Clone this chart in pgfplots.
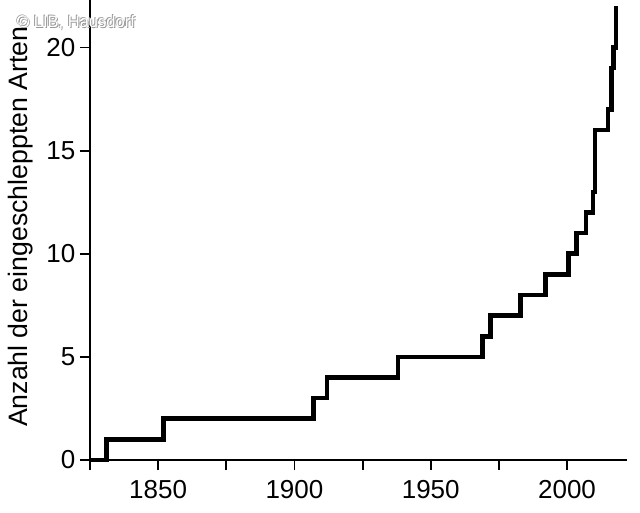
\documentclass[border=0pt]{standalone}
\usepackage{pgfplots}
\pgfplotsset{compat=1.18}
\usepackage{fontspec}
\setmainfont{Liberation Sans}
\begin{document}
\begin{tikzpicture}[x=0.75pt,y=0.75pt]
\useasboundingbox (-90,-52) rectangle (550,460);
\begin{axis}[
  scale only axis,
  width=402.75pt, height=345pt,
  at={(0,0)}, anchor=south west,
  xmin=1825, xmax=2022, ymin=0, ymax=22.3,
  axis lines=left,
  axis line style={line width=1.4pt, -},
  xtick={1850,1900,1950,2000},
  minor xtick={1825,1875,1925,1975},
  ytick={0,5,10,15,20},
  tick align=outside,
  major tick length=7.5pt, minor tick length=7.5pt,
  every tick/.style={black, line width=1.4pt},
  every minor tick/.style={black, line width=1.4pt},
  tick label style={font=\fontsize{19.5}{22}\selectfont},
  xticklabel style={yshift=-4.5pt},
  /pgf/number format/assume math mode=true,
  /pgf/number format/1000 sep={},
  ylabel={Anzahl der eingeschleppten Arten},
  ylabel style={font=\fontsize{20}{22}\selectfont, at={(axis description cs:-0.13,0.507)}, anchor=center},
  clip=false,
]
\addplot[const plot, black, line width=3.5pt, line join=miter] coordinates {
(1825,0)(1831,1)(1852,2)(1907,3)(1912,4)(1938,5)(1969,6)(1972,7)(1983,8)(1992,9)(2000.5,10)(2003.5,11)(2007,12)(2009.5,13)(2010.3,16)(2015,17)(2016.4,19)(2017,20)(2018,22)
};
\end{axis}
\node[gray!80, font=\fontsize{12.4}{14}\selectfont] at (-13,436) {© LIB, Hausdorf};
\node[gray!80, font=\fontsize{12.4}{14}\selectfont] at (-15,438) {© LIB, Hausdorf};
\node[white, font=\fontsize{12.4}{14}\selectfont] at (-14,437) {© LIB, Hausdorf};
\end{tikzpicture}
\end{document}
